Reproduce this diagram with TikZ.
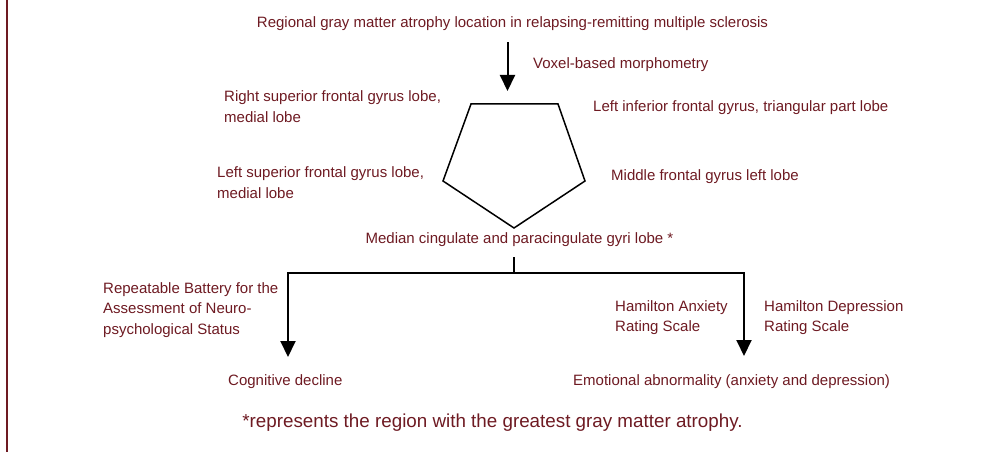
\documentclass[tikz,border=0pt]{standalone}
\usepackage{fontspec}
\setmainfont{Liberation Sans}
\usetikzlibrary{arrows.meta, positioning}
\definecolor{darkred}{RGB}{110,26,34}

\begin{document}
\begin{tikzpicture}[
    x=1pt, y=-1pt,
    lbl/.style={text=darkred, inner sep=0pt, font=\fontsize{15}{20.5}\selectfont, align=left},
    arrow/.style={-{Triangle[width=15pt,length=16pt]}, line width=2pt},
    branch/.style={line width=2pt},
]
\useasboundingbox (0,0) rectangle (1002,452);

% frame line on the left
\draw[darkred, line width=2pt] (7,0) -- (7,452);

% Title and method
\node[lbl] (title) at (512.5,24) {Regional gray matter atrophy location in relapsing-remitting multiple sclerosis};
\node[lbl, anchor=west] (vbm) at (533,65) {Voxel-based morphometry};

% Pentagon
\coordinate (ptl) at (471,104);
\coordinate (ptr) at (558,104);
\coordinate (pr) at (585,181);
\coordinate (pb) at (514,228);
\coordinate (pl) at (443,181);
\coordinate (apex) at (507.5,91);
\draw[line width=1.5pt, line join=miter] (ptl) -- (ptr) -- (pr) -- (pb) -- (pl) -- cycle;

% Regions
\node[lbl, anchor=west] (rsfg) at (224,106.5) {Right superior frontal gyrus lobe,\\medial lobe};
\node[lbl, anchor=west] (lifg) at (593,108) {Left inferior frontal gyrus, triangular part lobe};
\node[lbl, anchor=west] (lsfg) at (217,182.5) {Left superior frontal gyrus lobe,\\medial lobe};
\node[lbl, anchor=west] (mfg) at (611,177) {Middle frontal gyrus left lobe};
\node[lbl] (mcg) at (519.5,240) {Median cingulate and paracingulate gyri lobe *};

% Scales
\node[lbl, anchor=west] (rbans) at (103,310) {Repeatable Battery for the\\Assessment of Neuro-\\psychological Status};
\node[lbl, anchor=west] (hama) at (615,317.5) {Hamilton Anxiety\\Rating Scale};
\node[lbl, anchor=west] (hamd) at (764,317.5) {Hamilton Depression\\Rating Scale};

% Outcomes
\node[lbl, anchor=west] (cog) at (228,382) {Cognitive decline};
\node[lbl, anchor=west] (emo) at (573,382) {Emotional abnormality (anxiety and depression)};
\node[lbl, font=\fontsize{18.8}{22}\selectfont] (note) at (492.5,423) {*represents the region with the greatest gray matter atrophy.};

% Arrows
\coordinate (split) at (514,273);
\coordinate (cogtip) at (288,357);
\coordinate (emotip) at (744,356);
\draw[arrow, shorten <=11pt] (title.south -| apex) -- (apex);
\draw[branch, shorten <=10pt] (mcg.south -| split) -- (split);
\draw[arrow] (split) -| (cogtip);
\draw[arrow] (split) -| (emotip);

\end{tikzpicture}
\end{document}
